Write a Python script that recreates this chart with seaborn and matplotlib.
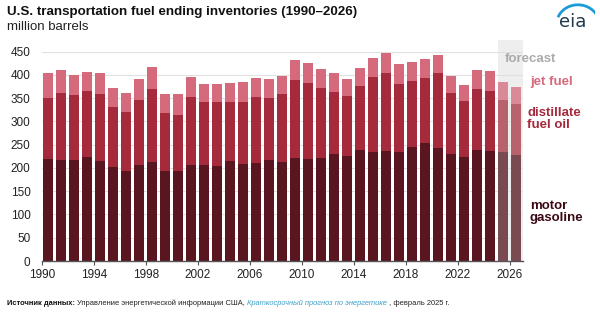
import matplotlib
matplotlib.use("Agg")
import matplotlib.pyplot as plt
import seaborn as sns
import pandas as pd
import numpy as np
from matplotlib.patches import Arc

years = list(range(1990, 2027))
gasoline = [219, 216, 216, 224, 214, 201, 194, 207, 213, 193, 194, 207, 207, 205, 215, 208, 211, 217, 213, 222,
            219, 222, 229, 226, 238, 234, 236, 235, 245, 253, 242, 231, 224, 238, 236, 234, 228]
distillate = [131, 144, 140, 141, 145, 130, 126, 140, 157, 124, 119, 146, 135, 137, 127, 134, 142, 133, 145, 166,
              164, 150, 135, 129, 137, 162, 167, 146, 141, 141, 161, 131, 119, 132, 129, 112, 110]
jet_fuel = [53, 50, 44, 42, 46, 40, 40, 44, 46, 41, 45, 43, 39, 39, 41, 43, 41, 41, 39, 44,
            43, 41, 41, 37, 39, 41, 45, 42, 42, 41, 40, 36, 35, 40, 43, 39, 36]
forecast_start = 2025
xticks = list(range(1990, 2027, 4))
yticks = list(range(0, 451, 50))

df = pd.DataFrame({"year": years, "gas": gasoline, "dist": distillate, "jet": jet_fuel})
df["x"] = df["year"] + 0.5
df["l2"] = df["gas"] + df["dist"]
df["l3"] = df["l2"] + df["jet"]
hist = df[df["year"] < forecast_start]
fc = df[df["year"] >= forecast_start]

sns.set_theme(style="white")
plt.rcParams["font.family"] = ["Liberation Sans", "DejaVu Sans"]

fig = plt.figure(figsize=(6.0, 3.27), dpi=100)
ax = fig.add_axes([0.0695, 0.2018, 0.8017, 0.676])

# forecast shading
ax.axvspan(forecast_start + 0.1, 2027, color="#eeeeee", zorder=0, lw=0)

cols_hist = {"l3": "#d46a7c", "l2": "#a52a3c", "gas": "#5a1620"}
cols_fc = {"l3": "#d98a96", "l2": "#b8626e", "gas": "#7a4a52"}
for layer in ["l3", "l2", "gas"]:
    for sub, cols in ((hist, cols_hist), (fc, cols_fc)):
        sns.barplot(data=sub, x="x", y=layer, native_scale=True, color=cols[layer],
                    saturation=1, width=0.78, errorbar=None, linewidth=0, ax=ax, zorder=2)

ax.set_xlim(1990, 2027)
ax.set_ylim(0, 475)
ax.set_yticks(yticks)
ax.set_xticks(xticks)
ax.set_xticklabels([str(y) for y in xticks])
ax.set_xlabel("")
ax.set_ylabel("")
for y in yticks[1:]:
    ax.axhline(y, color="#e0e0e0", lw=0.8, zorder=1)
for s in ["top", "right", "left"]:
    ax.spines[s].set_visible(False)
ax.spines["bottom"].set_color("#555555")
ax.spines["bottom"].set_linewidth(1.0)
ax.spines["bottom"].set_zorder(3)
ax.tick_params(axis="x", which="major", bottom=True, length=3, width=0.8, color="#555555",
               labelsize=8.5, labelcolor="#222222", pad=3)
ax.tick_params(axis="y", left=False, length=0, labelsize=8.5, labelcolor="#222222", pad=8)
ax.grid(False)

# titles
fig.text(7 / 600, 1 - 12 / 327, "U.S. transportation fuel ending inventories (1990\u20132026)",
         fontsize=9.6, fontweight="bold", color="#111111", va="center", ha="left")
fig.text(7 / 600, 1 - 27 / 327, "million barrels", fontsize=9.5, color="#222222", va="center", ha="left")

# series labels
def ftxt(x, y, s, c, **kw):
    fig.text(x / 600, 1 - y / 327, s, color=c, fontsize=9.5, fontweight="bold", va="center", ha="left",
             linespacing=1.05, **kw)

ftxt(505, 59, "forecast", "#ababab")
ftxt(530, 82, "jet fuel", "#d46a7c")
ftxt(527, 119, "distillate\nfuel oil", "#a52a3c")
ftxt(530, 212, "motor\ngasoline", "#3a0a14")

# eia logo
fig.text(573 / 600, 1 - 22 / 327, "eia", fontsize=13, color="#1f3a4d", ha="center", va="center",
         family=["DejaVu Sans"])
logo_ax = fig.add_axes([550 / 600, 1 - 30 / 327, 45 / 600, 28 / 327])
logo_ax.set_xlim(0, 1)
logo_ax.set_ylim(0, 1)
logo_ax.axis("off")
logo_ax.add_patch(Arc((0.62, 0.2), 0.95, 1.4, theta1=40, theta2=150, color="#1d9bd7", lw=2))

# source line
src_y = 1 - 305 / 327
fs = 5.4
t1 = fig.text(7 / 600, src_y, "Источник данных: ", fontsize=fs, fontweight="bold", color="#111111",
              va="baseline")
t2 = ax.annotate("Управление энергетической информации США, ", xy=(1, 0), xycoords=t1,
                 va="bottom", ha="left", fontsize=fs, color="#222222", annotation_clip=False)
t3 = ax.annotate("Краткосрочный прогноз по энергетике", xy=(1, 0), xycoords=t2,
                 va="bottom", ha="left", fontsize=fs, color="#3a9fc8", style="italic",
                 annotation_clip=False)
t4 = ax.annotate(" , февраль 2025 г.", xy=(1, 0), xycoords=t3,
                 va="bottom", ha="left", fontsize=fs, color="#222222", annotation_clip=False)

fig.savefig("out.png", dpi=100)
